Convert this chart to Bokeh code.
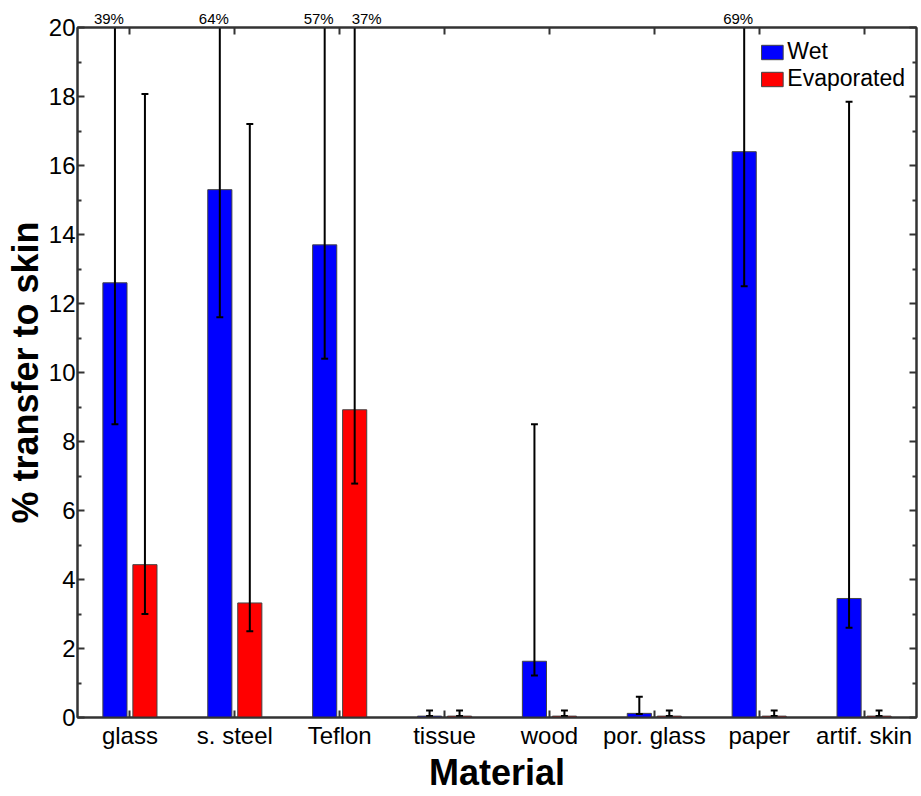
from bokeh.plotting import figure
from bokeh.models import (FixedTicker, LinearAxis, Range1d, Legend, LegendItem)
from bokeh.embed import file_html
from bokeh.resources import INLINE

categories = ["glass", "s. steel", "Teflon", "tissue", "wood", "por. glass", "paper", "artif. skin"]
wet = [12.6, 15.3, 13.7, 0.04, 1.63, 0.12, 16.4, 3.45]
wet_lower = [8.5, 11.6, 10.4, 0.04, 1.22, 0.1, 12.5, 2.6]
wet_upper = [39, 64, 57, 0.2, 8.5, 0.6, 69, 17.85]
evap = [4.43, 3.32, 8.92, 0.04, 0.04, 0.04, 0.04, 0.04]
evap_lower = [3.0, 2.5, 6.78, 0.04, 0.04, 0.04, 0.04, 0.04]
evap_upper = [18.07, 17.2, 37, 0.2, 0.2, 0.2, 0.2, 0.2]
y_ticks = [0, 2, 4, 6, 8, 10, 12, 14, 16, 18, 20]
y_minor = [1, 3, 5, 7, 9, 11, 13, 15, 17, 19]

YMAX = 20
FONT = "Liberation Sans"
AX = "#333333"

p = figure(width=920, height=795, output_backend="svg", toolbar_location=None,
           x_range=Range1d(0.5, len(categories) + 0.5), y_range=Range1d(0, YMAX),
           min_border_left=77, min_border_right=4, min_border_top=27, min_border_bottom=78,
           x_axis_label="Material", y_axis_label="% transfer to skin")
p.xgrid.visible = False
p.ygrid.visible = False
p.outline_line_color = AX
p.outline_line_width = 2

xs = list(range(1, len(categories) + 1))
off = 0.143
bw = 0.23
xw = [x - off for x in xs]
xe = [x + off for x in xs]

r_wet = p.vbar(x=xw, top=wet, width=bw, fill_color="#0000FF", line_color="#444444", line_width=1)
r_evap = p.vbar(x=xe, top=evap, width=bw, fill_color="#FF0000", line_color="#444444", line_width=1)

cap = 0.033
for xx, lo, hi in ((xw, wet_lower, wet_upper), (xe, evap_lower, evap_upper)):
    top_clip = [min(h, YMAX + 1) for h in hi]
    p.segment(x0=xx, y0=lo, x1=xx, y1=top_clip, line_color="black", line_width=2)
    p.segment(x0=[x - cap for x in xx], y0=lo, x1=[x + cap for x in xx], y1=lo,
              line_color="black", line_width=2)
    cx = [x for x, h in zip(xx, hi) if h <= YMAX]
    cy = [h for h in hi if h <= YMAX]
    p.segment(x0=[x - cap for x in cx], y0=cy, x1=[x + cap for x in cx], y1=cy,
              line_color="black", line_width=2)

# percentages of error bars that run past the top of the axis (nudged apart a little)
over = {}
for xx, hi, nudge in ((xw, wet_upper, -0.057), (xe, evap_upper, 0.114)):
    for x, h in zip(xx, hi):
        if h > YMAX:
            over[round(x + nudge, 4)] = f"{h:g}%"


def style_axis(ax):
    ax.axis_line_color = AX
    ax.axis_line_width = 2
    ax.major_tick_in = 7
    ax.major_tick_out = 0
    ax.minor_tick_in = 4
    ax.minor_tick_out = 0
    ax.major_tick_line_color = AX
    ax.minor_tick_line_color = AX
    ax.major_tick_line_width = 2
    ax.minor_tick_line_width = 2
    ax.major_label_text_font = FONT
    ax.major_label_text_font_size = "24px"
    ax.major_label_text_color = "black"
    ax.axis_label_text_font = FONT
    ax.axis_label_text_font_size = "36px"
    ax.axis_label_text_font_style = "bold"
    ax.axis_label_text_color = "black"


p.xaxis.ticker = FixedTicker(ticks=xs)
p.xaxis.major_label_overrides = {x: c for x, c in zip(xs, categories)}
p.yaxis.ticker = FixedTicker(ticks=y_ticks, minor_ticks=y_minor)
style_axis(p.xaxis[0])
style_axis(p.yaxis[0])
p.xaxis.minor_tick_in = 0
p.xaxis.major_label_standoff = 4
p.xaxis.axis_label_standoff = 0
p.yaxis.major_label_standoff = 2
p.yaxis.axis_label_standoff = 0

# top frame edge with inward category ticks
top_ax = LinearAxis(ticker=FixedTicker(ticks=xs))
style_axis(top_ax)
top_ax.minor_tick_in = 0
top_ax.major_label_overrides = {x: "" for x in xs}
top_ax.major_label_standoff = 0

# percentage labels for error bars that leave the plot
pct_ax = LinearAxis(ticker=FixedTicker(ticks=sorted(over.keys())))
style_axis(pct_ax)
pct_ax.axis_line_color = None
pct_ax.major_tick_line_color = None
pct_ax.minor_tick_line_color = None
pct_ax.major_tick_in = 0
pct_ax.minor_tick_in = 0
pct_ax.major_label_overrides = over
pct_ax.major_label_text_font_size = "15px"
pct_ax.major_label_standoff = 1

right_ax = LinearAxis(ticker=FixedTicker(ticks=y_ticks, minor_ticks=y_minor))
style_axis(right_ax)
right_ax.major_label_overrides = {t: "" for t in y_ticks}
right_ax.major_label_standoff = 0
p.add_layout(top_ax, "above")
p.add_layout(pct_ax, "above")
p.add_layout(right_ax, "right")

legend = Legend(items=[LegendItem(label="Wet", renderers=[r_wet]),
                       LegendItem(label="Evaporated", renderers=[r_evap])],
                location="top_right")
legend.label_text_font = FONT
legend.label_text_font_size = "23px"
legend.label_text_color = "black"
legend.glyph_width = 27
legend.glyph_height = 18
legend.label_standoff = 2
legend.spacing = 0
legend.padding = 2
legend.margin = 9
legend.border_line_alpha = 0
legend.background_fill_alpha = 0
p.add_layout(legend, "center")

open("out.html", "w").write(file_html(p, INLINE))
